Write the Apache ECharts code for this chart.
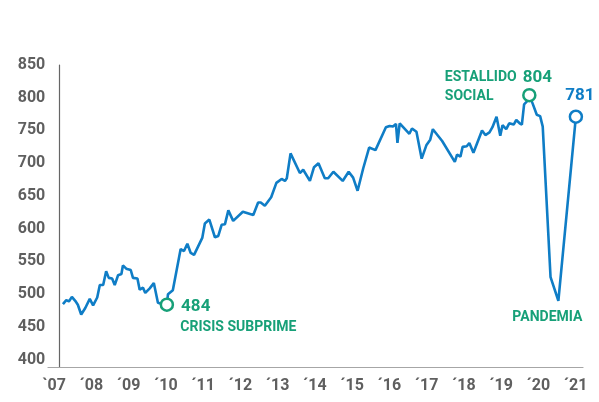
<!DOCTYPE html>
<html>
<head>
<meta charset="utf-8">
<script src="https://cdn.jsdelivr.net/npm/echarts@6/dist/echarts.min.js"></script>
<style>
html,body{margin:0;padding:0;background:#fff;}
#chart{width:599px;height:402px;}
</style>
</head>
<body>
<div id="chart"></div>
<script>
// Time (decimal year) and index values
var years = [2007.24,2007.33,2007.40,2007.48,2007.57,2007.64,2007.73,2007.84,2007.96,2008.05,
2008.16,2008.23,2008.32,2008.40,2008.47,2008.56,2008.63,2008.72,2008.81,2008.85,
2008.94,2009.06,2009.12,2009.24,2009.30,2009.39,2009.45,2009.57,2009.68,2009.79,
2009.90,2010.03,2010.06,2010.19,2010.40,2010.49,2010.58,2010.67,2010.76,2010.98,
2011.05,2011.17,2011.32,2011.41,2011.50,2011.59,2011.68,2011.81,2012.07,2012.35,
2012.48,2012.55,2012.66,2012.83,2012.97,2013.11,2013.20,2013.25,2013.35,2013.60,
2013.69,2013.87,2013.98,2014.10,2014.27,2014.36,2014.50,2014.75,2014.91,2015.03,
2015.15,2015.30,2015.46,2015.63,2015.91,2016.01,2016.10,2016.18,2016.22,2016.28,
2016.54,2016.61,2016.73,2016.87,2017.00,2017.10,2017.17,2017.42,2017.76,2017.82,
2017.91,2017.97,2018.08,2018.15,2018.26,2018.49,2018.58,2018.69,2018.77,2018.88,
2018.98,2019.04,2019.14,2019.22,2019.34,2019.41,2019.50,2019.56,2019.62,2019.69,
2019.76,2019.85,2019.96,2020.05,2020.12,2020.33,2020.54,2021.01];
var values = [485,491,489,496,490,484,469,479,493,483,
495,514,514,535,525,524,514,529,531,544,
539,537,525,524,507,510,502,509,517,487,
485,484,500,506,569,566,577,563,560,586,
608,614,587,589,606,607,628,612,626,621,
640,640,635,648,670,676,673,677,715,685,
690,673,694,700,677,677,687,673,687,678,
658,692,724,720,755,757,756,760,731,761,
745,753,748,707,728,736,752,734,702,713,
710,725,726,731,716,750,743,747,755,771,
742,758,752,761,759,766,761,759,790,794,
804,791,774,772,756,526,490,771];

// Highlighted points
var hitoIdx = [31, 110, 117];
var hitoText = ['484', '804', '781'];
var eventIdx = [31, 110, 116];
var eventText = ['CRISIS SUBPRIME', 'ESTALLIDO\nSOCIAL', 'PANDEMIA'];

// Axis ticks
var yTicks = [400,450,500,550,600,650,700,750,800,850];
var xTicks = [2007,2008,2009,2010,2011,2012,2013,2014,2015,2016,2017,2018,2019,2020,2021];
var xTickLabels = ['`07','´08','´09','´10','´11','´12','´13','´14','´15','´16','´17','´18','´19','´20','´21'];

var BLUE = '#0f7dc6';
var GREEN = '#17a078';
var FONT = 'Roboto, sans-serif';

var lineData = years.map(function(y,i){ return [y, values[i]]; });

var hitoStyles = [
  {color: GREEN, pos: 'right', dist: 7, off: [0, 2]},
  {color: GREEN, pos: 'top', dist: 2, off: [8, 0]},
  {color: BLUE, pos: 'top', dist: 5, off: [4, 0]}
];
var hitoData = hitoIdx.map(function(idx, k){
  var s = hitoStyles[k];
  return {
    value: [years[idx], values[idx]],
    itemStyle: {color: '#fff', borderColor: s.color, borderWidth: 2.5, opacity: 1},
    label: {show: true, formatter: hitoText[k], position: s.pos, distance: s.dist, offset: s.off,
      color: s.color, fontSize: 17, fontWeight: 'bold', fontFamily: FONT}
  };
});
var eventStyles = [
  {pos: 'right', dist: 13, off: [0, 23], align: 'left'},
  {pos: 'left', dist: 0, off: [-84, -8], align: 'left'},
  {pos: 'bottom', dist: 7, off: [-11, 0], align: 'center'}
];
var eventData = eventIdx.map(function(idx, k){
  var s = eventStyles[k];
  return {
    value: [years[idx], values[idx]],
    label: {show: true, formatter: eventText[k], position: s.pos, distance: s.dist, offset: s.off,
      align: s.align, lineHeight: 19,
      color: GREEN, fontSize: 14, fontWeight: 'bold', fontFamily: FONT}
  };
});

var chart = echarts.init(document.getElementById('chart'), null, {renderer: 'canvas'});
chart.setOption({
  animation: false,
  backgroundColor: '#fff',
  grid: {left: 48, right: 16, top: 65, bottom: 35, containLabel: false},
  xAxis: {
    type: 'value', min: 2006.839, max: 2021.201,
    axisLine: {show: true, lineStyle: {color: '#a6a6a6', width: 1.2}},
    axisTick: {show: false},
    splitLine: {show: false},
    axisLabel: {
      customValues: xTicks,
      formatter: function(v){ var i = xTicks.indexOf(Math.round(v)); return i >= 0 ? xTickLabels[i] : ''; },
      color: '#5f5f5f', fontSize: 16, fontWeight: 'bold', fontFamily: FONT, margin: 11
    }
  },
  yAxis: {
    type: 'value', min: 388.9, max: 850, offset: -11.3,
    axisLine: {show: true, lineStyle: {color: '#666', width: 1.2}},
    axisTick: {show: false},
    splitLine: {show: false},
    axisLabel: {
      customValues: yTicks,
      color: '#5f5f5f', fontSize: 16, fontWeight: 'bold', fontFamily: FONT, margin: 14
    }
  },
  series: [
    {
      type: 'line', data: lineData, showSymbol: false, symbol: 'none',
      lineStyle: {color: BLUE, width: 2.6}, z: 2
    },
    {
      type: 'scatter', data: hitoData, symbol: 'circle', symbolSize: 12, z: 5,
      itemStyle: {opacity: 1}, emphasis: {disabled: true}
    },
    {
      type: 'scatter', data: eventData, symbol: 'circle', symbolSize: 1, z: 4,
      itemStyle: {color: 'rgba(0,0,0,0)', opacity: 1}, emphasis: {disabled: true}
    }
  ]
});
</script>
</body>
</html>
